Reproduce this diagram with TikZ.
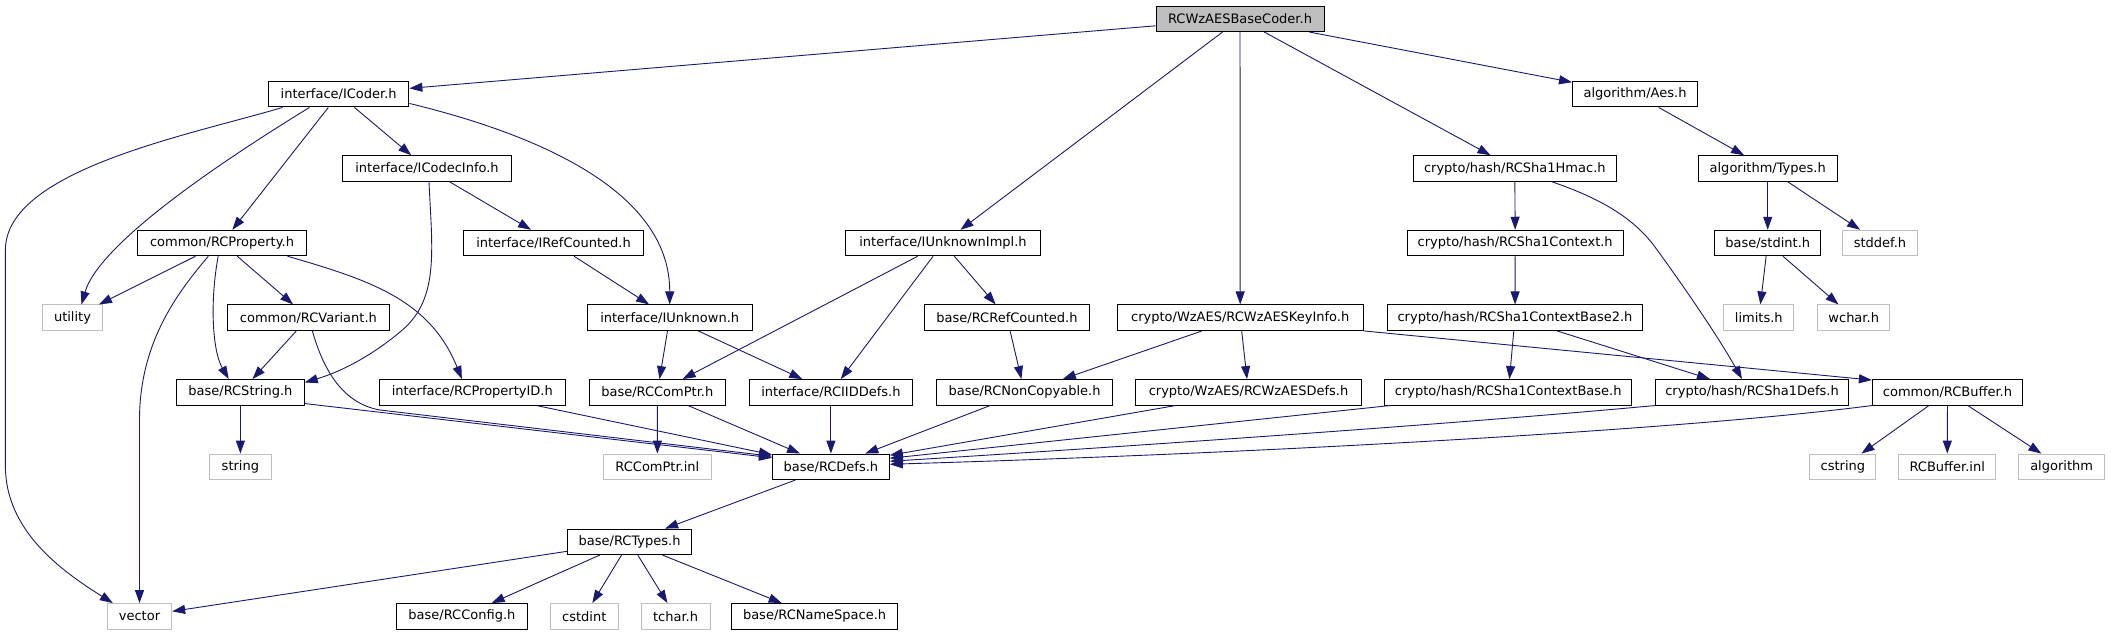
\documentclass[tikz,border=0pt]{standalone}
\usepackage{fontspec}
\setmainfont{DejaVu Sans}
\usetikzlibrary{arrows.meta}
\definecolor{edgeblue}{HTML}{191970}
\definecolor{lightframe}{HTML}{BFBFBF}
\begin{document}
\begin{tikzpicture}[x=1pt,y=-1pt,
  nb/.style={draw=black, line width=1pt, minimum height=25.5pt, inner sep=0pt,
    font=\fontsize{13}{15}\selectfont, anchor=center},
  gb/.style={nb, draw=lightframe},
  rootb/.style={nb, fill=lightframe},
  conn/.style={draw=edgeblue, line width=0.9pt, -{Triangle[length=13pt,width=9pt]}}]
\useasboundingbox[fill=white] (0,0) rectangle (2127,635);

% row 1
\node[rootb, minimum width=168pt] (coder) at (1240,18.8) {RCWzAESBaseCoder.h};
% row 2
\node[nb, minimum width=140.4pt] (icoder) at (338.7,94.2) {interface/ICoder.h};
\node[nb, minimum width=125pt] (aes) at (1635,94.2) {algorithm/Aes.h};
% row 3
\node[nb, minimum width=169.4pt] (icodecinfo) at (427,168.5) {interface/ICodecInfo.h};
\node[nb, minimum width=203.3pt] (sha1hmac) at (1514.8,168.5) {crypto/hash/RCSha1Hmac.h};
\node[nb, minimum width=138.6pt] (types) at (1767.7,168.5) {algorithm/Types.h};
% row 4
\node[nb, minimum width=168.9pt] (rcproperty) at (222,243) {common/RCProperty.h};
\node[nb, minimum width=179.7pt] (irefcounted) at (553.5,243) {interface/IRefCounted.h};
\node[nb, minimum width=195.2pt] (iunknownimpl) at (943,243) {interface/IUnknownImpl.h};
\node[nb, minimum width=216pt] (sha1context) at (1515.2,243) {crypto/hash/RCSha1Context.h};
\node[nb, minimum width=105.9pt] (stdint) at (1767.7,243) {base/stdint.h};
\node[gb, minimum width=74.3pt] (stddef) at (1880,243) {stddef.h};
% row 5
\node[gb, minimum width=59.7pt] (utility) at (72.5,317.7) {utility};
\node[nb, minimum width=162.1pt] (rcvariant) at (308.4,317.7) {common/RCVariant.h};
\node[nb, minimum width=164.7pt] (iunknown) at (669.7,317.7) {interface/IUnknown.h};
\node[nb, minimum width=164.8pt] (rcrefcounted) at (1007,317.7) {base/RCRefCounted.h};
\node[nb, minimum width=246.3pt] (keyinfo) at (1240.2,317.7) {crypto/WzAES/RCWzAESKeyInfo.h};
\node[nb, minimum width=255.4pt] (contextbase2) at (1515,317.7) {crypto/hash/RCSha1ContextBase2.h};
\node[gb, minimum width=70.2pt] (limits) at (1758.8,317.7) {limits.h};
\node[gb, minimum width=72.4pt] (wchar) at (1853.7,317.7) {wchar.h};
% row 6
\node[nb, minimum width=127.7pt] (rcstring) at (240.4,392.3) {base/RCString.h};
\node[nb, minimum width=186.5pt] (rcpropertyid) at (472.3,392.3) {interface/RCPropertyID.h};
\node[nb, minimum width=135.5pt] (rccomptr) at (657.3,392.3) {base/RCComPtr.h};
\node[nb, minimum width=163pt] (rciiddefs) at (830.9,392.3) {interface/RCIIDDefs.h};
\node[nb, minimum width=176.1pt] (rcnoncopyable) at (1024.5,392.3) {base/RCNonCopyable.h};
\node[nb, minimum width=225.9pt] (wzaesdefs) at (1248.5,392.3) {crypto/WzAES/RCWzAESDefs.h};
\node[nb, minimum width=247.2pt] (contextbase) at (1508.2,392.3) {crypto/hash/RCSha1ContextBase.h};
\node[nb, minimum width=193.3pt] (sha1defs) at (1752,392.3) {crypto/hash/RCSha1Defs.h};
\node[nb, minimum width=150.3pt] (rcbuffer) at (1947.5,392.3) {common/RCBuffer.h};
% row 7
\node[gb, minimum width=61.6pt] (string) at (240.4,466.8) {string};
\node[gb, minimum width=107.7pt] (comptrinl) at (657.4,466.8) {RCComPtr.inl};
\node[nb, minimum width=116.9pt] (rcdefs) at (830.9,466.8) {base/RCDefs.h};
\node[gb, minimum width=66.1pt] (cstring) at (1842.9,466.8) {cstring};
\node[gb, minimum width=97.4pt] (bufferinl) at (1947.2,466.8) {RCBuffer.inl};
\node[gb, minimum width=86.1pt] (algorithm) at (2061.6,466.8) {algorithm};
% row 8
\node[nb, minimum width=124.5pt] (rctypes) at (629.6,541.8) {base/RCTypes.h};
% row 9
\node[gb, minimum width=64.3pt] (vector) at (139.5,616.3) {vector};
\node[nb, minimum width=130.5pt] (rcconfig) at (461.9,616.3) {base/RCConfig.h};
\node[gb, minimum width=67.5pt] (cstdint) at (584.3,616.3) {cstdint};
\node[gb, minimum width=68.8pt] (tchar) at (675.6,616.3) {tchar.h};
\node[nb, minimum width=166.7pt] (rcnamespace) at (814.6,616.3) {base/RCNameSpace.h};

% edges from root
\draw[conn] (coder) -- (icoder);
\draw[conn] (coder) -- (iunknownimpl);
\draw[conn] (coder) -- (keyinfo);
\draw[conn] (coder) -- (sha1hmac);
\draw[conn] (coder) -- (aes);

% ICoder
\draw[conn] ([xshift=14.5pt]icoder.south west) .. controls (190,135) and (5.4,170) .. (5.4,250)
   -- (5.4,466) .. controls (5.4,530) and (60,570) .. ([xshift=6pt]vector.north west);
\draw[conn] ([xshift=41.5pt]icoder.south west) .. controls (240,150) and (100,240) .. ([xshift=9pt]utility.north);
\draw[conn] (icoder) -- (rcproperty);
\draw[conn] (icoder) -- (icodecinfo);
\draw[conn] ([yshift=4pt]icoder.south east) .. controls (560,140) and (670,200) .. (iunknown.north);

% ICodecInfo
\draw[conn] ([xshift=2pt]icodecinfo.south) .. controls (432,250) and (440,300) .. (400,332)
   .. controls (370,357) and (340,372) .. ([yshift=-3.4pt]rcstring.north east);
\draw[conn] (icodecinfo) -- (irefcounted);

% IRefCounted
\draw[conn] (irefcounted) -- (iunknown);

% RCProperty
\draw[conn] (rcproperty) -- (utility);
\draw[conn] ([xshift=-13.7pt]rcproperty.south) .. controls (180,290) and (139.5,340) .. (139.5,420) -- (vector.north);
\draw[conn] ([xshift=-3.8pt]rcproperty.south) .. controls (210,300) and (212,350) .. ([xshift=-11.7pt]rcstring.north);
\draw[conn] (rcproperty) -- (rcvariant);
\draw[conn] ([xshift=65.5pt]rcproperty.south) .. controls (370,280) and (430,300) .. ([xshift=-10.4pt]rcpropertyid.north);

% RCVariant
\draw[conn] (rcvariant) -- (rcstring);
\draw[conn] ([xshift=4pt]rcvariant.south) .. controls (322,365) and (340,403) .. (380,410)
   -- ([yshift=-2.7pt]rcdefs.north west);

% RCString
\draw[conn] (rcstring) -- (string);
\draw[conn] ([yshift=2pt]rcstring.south east) -- ([yshift=-4.2pt]rcdefs.north west);

% RCPropertyID
\draw[conn] ([xshift=64.3pt]rcpropertyid.south) -- ([yshift=-1.2pt]rcdefs.north west);

% IUnknown
\draw[conn] (iunknown) -- (rccomptr);
\draw[conn] (iunknown) -- (rciiddefs);

% IUnknownImpl
\draw[conn] (iunknownimpl) -- (rccomptr);
\draw[conn] (iunknownimpl) -- (rciiddefs);
\draw[conn] (iunknownimpl) -- (rcrefcounted);

% RCRefCounted
\draw[conn] (rcrefcounted) -- (rcnoncopyable);

% KeyInfo
\draw[conn] (keyinfo) -- (rcnoncopyable);
\draw[conn] (keyinfo) -- (wzaesdefs);
\draw[conn] (keyinfo.south east) -- ([yshift=-1pt]rcbuffer.north west);

% RCComPtr
\draw[conn] (rccomptr) -- (comptrinl);
\draw[conn] (rccomptr) -- (rcdefs);

% to RCDefs
\draw[conn] (rciiddefs) -- (rcdefs);
\draw[conn] (rcnoncopyable) -- (rcdefs);
\draw[conn] ([xshift=-73pt]wzaesdefs.south) -- ([yshift=-1.7pt]rcdefs.north east);
\draw[conn] ([xshift=6pt]contextbase.south west) -- ([yshift=-4.7pt]rcdefs.north east);
\draw[conn] (sha1defs.south west) .. controls (1500,420) and (1200,442) .. ([yshift=-7.7pt]rcdefs.north east);
\draw[conn] (rcbuffer.south west) .. controls (1700,428) and (1300,452) .. ([yshift=-10.7pt]rcdefs.north east);

% RCDefs
\draw[conn] (rcdefs) -- (rctypes);

% RCTypes
\draw[conn] (rctypes) -- (vector);
\draw[conn] (rctypes) -- (rcconfig);
\draw[conn] (rctypes) -- (cstdint);
\draw[conn] (rctypes) -- (tchar);
\draw[conn] (rctypes) -- (rcnamespace);

% Sha1 chain
\draw[conn] (sha1hmac) -- (sha1context);
\draw[conn] ([xshift=37pt]sha1hmac.south) .. controls (1605,200) and (1635,220) .. (1655,247)
   .. controls (1690,295) and (1720,340) .. ([xshift=-10pt]sha1defs.north);
\draw[conn] (sha1context) -- (contextbase2);
\draw[conn] (contextbase2) -- (contextbase);
\draw[conn] (contextbase2) -- (sha1defs);

% algorithm
\draw[conn] (aes) -- (types);
\draw[conn] (types) -- (stdint);
\draw[conn] (types) -- (stddef);
\draw[conn] (stdint) -- (limits);
\draw[conn] (stdint) -- (wchar);

% RCBuffer
\draw[conn] (rcbuffer) -- (cstring);
\draw[conn] (rcbuffer) -- (bufferinl);
\draw[conn] (rcbuffer) -- (algorithm);
\end{tikzpicture}
\end{document}
